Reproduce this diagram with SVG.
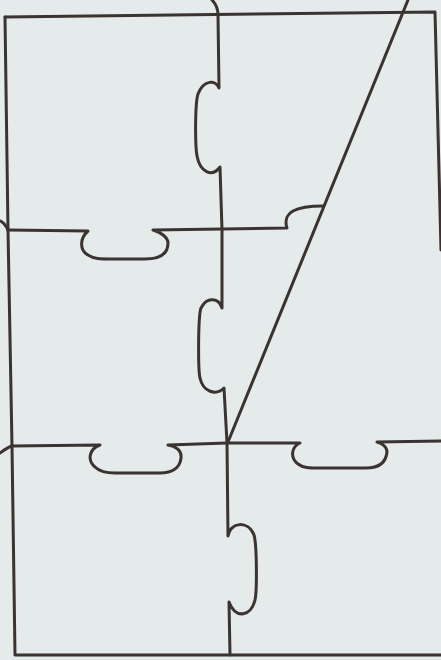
<svg xmlns="http://www.w3.org/2000/svg" width="441" height="660" viewBox="0 0 441 660">
<style>
.l{fill:none;stroke:#3b3330;stroke-width:3;stroke-linecap:round;stroke-linejoin:round}
</style>
<rect width="441" height="660" fill="#e5ebea"/>
<g id="frame" class="l">
<path d="M5,17 L435,12 L441,250"/>
<path d="M5,17 L8,230 L12,446 L15,655 L441,655"/>
<path d="M0,221 C3,222 6,226 8,230"/>
<path d="M0,453 C4,450 8,447 12,446"/>
</g>
<g id="diagonal" class="l">
<path d="M408,0 L228,442"/>
</g>
<g id="seam-upper" class="l">
<path d="M212,0 C216,4 218,9 218,15 L219,88 C216,80 204,79 198,94 C195,103 195,145 197,156 C200,172 212,178 220,167 L222,230 L222,308 C219,298 207,296 201,308 C198,316 198,370 200,378 C203,392 216,396 224,388 L227,443"/>
</g>
<g id="seam-lower" class="l">
<path d="M227,443 L228,536 C230,522 248,520 254,535 C257,545 257,592 255,600 C251,616 236,620 229,602 L230,655"/>
</g>
<g id="row-upper" class="l">
<path d="M8,230 L88,231 C80,238 79,250 88,255 C94,259 100,259 112,259 L145,259 C162,259 168,252 168,243 C168,237 160,232 153,230 L222,229 L287,228 C285,222 286,215 293,211 C300,207 312,206 323,206"/>
</g>
<g id="row-lower" class="l">
<path d="M12,446 L100,445 C89,449 87,460 95,467 C100,472 108,473 115,473 L160,473 C172,473 180,468 181,458 C182,450 175,446 168,445 L227,443 L300,443 C291,447 290,458 298,464 C303,468 310,468 318,468 L366,468 C380,468 386,462 387,452 C387,447 382,443 377,442 L441,441"/>
</g>
</svg>
